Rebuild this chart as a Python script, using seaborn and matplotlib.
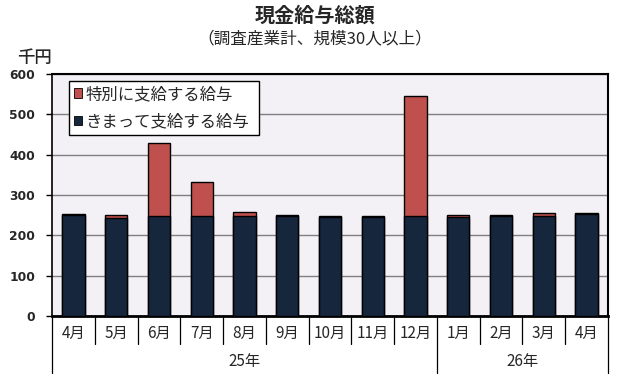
import matplotlib
matplotlib.use("Agg")
import matplotlib.pyplot as plt
import matplotlib.transforms as mtransforms
from matplotlib.patches import Patch
import seaborn as sns
import pandas as pd
import numpy as np

months = ["4月", "5月", "6月", "7月", "8月", "9月", "10月", "11月", "12月", "1月", "2月", "3月", "4月"]
years = ["25年", "26年"]
year_span = [9, 4]
regular = [250, 243, 247, 247, 247, 249, 246, 246, 247, 246, 249, 247, 254]
special = [2, 7, 182, 85, 10, 2, 2, 2, 298, 4, 2, 8, 2]
series_names = ["特別に支給する給与", "きまって支給する給与"]

sns.set_theme(style="white")
plt.rcParams['font.family'] = ['Noto Sans CJK JP', 'DejaVu Sans']

red = "#C0504D"
navy = "#16263D"

df = pd.DataFrame({
    "pos": list(range(len(months))),
    "regular": regular,
    "total": [r + s for r, s in zip(regular, special)],
})

fig = plt.figure(figsize=(6.3, 3.8), dpi=100)
ax = fig.add_axes([52/630, 1 - 316/380, 556/630, 242/380])
ax.set_facecolor("#F3F1F5")

sns.barplot(data=df, x="pos", y="total", color=red, saturation=1, width=0.52,
            edgecolor="black", linewidth=1.0, ax=ax, zorder=3)
sns.barplot(data=df, x="pos", y="regular", color=navy, saturation=1, width=0.52,
            edgecolor="black", linewidth=1.0, ax=ax, zorder=4)

ax.set_xlim(-0.5, len(months) - 0.5)
ax.set_ylim(0, 600)
ax.set_yticks(range(0, 601, 100))
ax.set_yticklabels([str(v) for v in range(0, 601, 100)], fontsize=8.8,
                   fontweight="bold", family="DejaVu Sans")
ax.yaxis.grid(True, color="#808080", linewidth=1.0, zorder=0)
ax.set_axisbelow(True)
ax.tick_params(axis="y", left=True, length=4, width=1, color="black", pad=8)
ax.set_xlabel("")
ax.set_ylabel("")

ax.set_xticks([])
trans = mtransforms.blended_transform_factory(ax.transData, ax.transAxes)
for i, m in enumerate(months):
    ax.text(i, -17.5 / 242, m, transform=trans, ha="center", va="center", fontsize=11)

for s in ["top", "right", "left"]:
    ax.spines[s].set_color("black")
    ax.spines[s].set_linewidth(1.5)
ax.spines["left"].set_linewidth(1.2)
ax.spines["bottom"].set_color("black")
ax.spines["bottom"].set_linewidth(2.0)

# category separators
h1 = 28 / 242
h2 = 57 / 242
bounds = np.cumsum([0] + year_span) - 0.5
for i in range(len(months) + 1):
    x = i - 0.5
    depth = h2 if x in bounds else h1
    ax.plot([x, x], [0, -depth], transform=trans, color="black", linewidth=0.9,
            clip_on=False)
for j, yl in enumerate(years):
    cx = (bounds[j] + bounds[j + 1]) / 2
    ax.text(cx, -45.5 / 242, yl, transform=trans, ha="center", va="center", fontsize=11)

handles = [Patch(facecolor=red, edgecolor="black", linewidth=0.6),
           Patch(facecolor=navy, edgecolor="black", linewidth=0.6)]
lx0 = (69 - 52) / 556
lw = (259 - 69) / 556
ltop = (316 - 81) / 242
leg = ax.legend(handles, series_names, loc="upper left",
                bbox_to_anchor=(lx0, ltop - 0.3, lw, 0.3), mode="expand",
                frameon=True, fancybox=False, edgecolor="black", framealpha=1,
                fontsize=11.8, handlelength=0.5, handleheight=0.5, handletextpad=0.2,
                borderpad=0.3, labelspacing=0.62, borderaxespad=0)
leg.get_frame().set_linewidth(1.0)
leg.set_zorder(10)

fig.text(0.5, 1 - 15/380, "現金給与総額", ha="center", va="center", fontsize=14.5, fontweight="bold")
fig.text(0.5, 1 - 38.5/380, "（調査産業計、規模30人以上）", ha="center", va="center", fontsize=12)
fig.text(35/630, 1 - 58.5/380, "千円", ha="center", va="center", fontsize=12.5, fontweight="medium")

fig.savefig("out.png", dpi=100)
